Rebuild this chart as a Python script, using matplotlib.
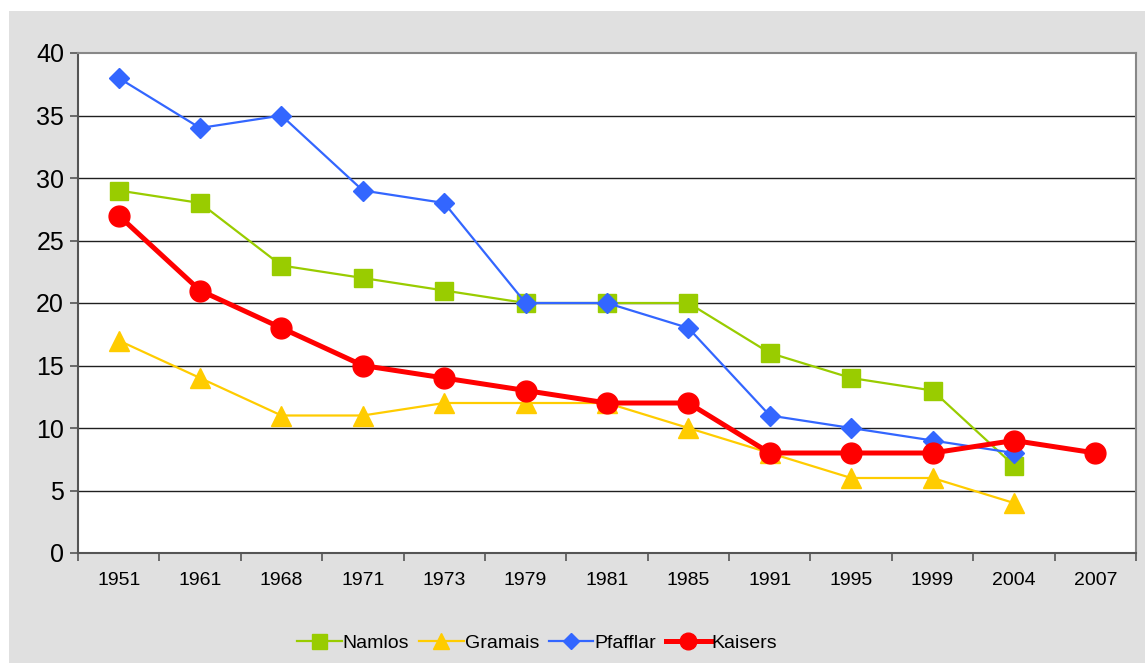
import matplotlib.pyplot as plt
import numpy as np
from matplotlib.patches import Rectangle

plt.rcParams['font.family'] = ['Liberation Sans', 'DejaVu Sans']

years = ['1951', '1961', '1968', '1971', '1973', '1979', '1981',
         '1985', '1991', '1995', '1999', '2004', '2007']
namlos = [29, 28, 23, 22, 21, 20, 20, 20, 16, 14, 13, 7, None]
gramais = [17, 14, 11, 11, 12, 12, 12, 10, 8, 6, 6, 4, None]
pfafflar = [38, 34, 35, 29, 28, 20, 20, 18, 11, 10, 9, 8, None]
kaisers = [27, 21, 18, 15, 14, 13, 12, 12, 8, 8, 8, 9, 8]

def arr(v):
    return np.array([np.nan if a is None else a for a in v], dtype=float)

W, H = 1145, 663
fig = plt.figure(figsize=(W / 100, H / 100), dpi=100, facecolor='white')
# gray chart area with a thin white margin top/left
fig.patches.append(Rectangle((9 / W, 0), 1 - 9 / W, (H - 11) / H,
                             transform=fig.transFigure, facecolor='#E0E0E0',
                             edgecolor='none', zorder=-10))

ax = fig.add_axes([78 / W, (H - 553) / H, (1136 - 78) / W, (553 - 53) / H])
ax.set_facecolor('white')

x = np.arange(len(years))
ax.plot(x, arr(namlos), color='#99CC00', lw=1.6, marker='s', ms=13.5, label='Namlos', zorder=3)
ax.plot(x, arr(gramais), color='#FFCC00', lw=1.6, marker='^', ms=14, label='Gramais', zorder=3)
ax.plot(x, arr(pfafflar), color='#3366FF', lw=1.6, marker='D', ms=10.5, label='Pfafflar', zorder=4)
ax.plot(x, arr(kaisers), color='#FF0000', lw=3.6, marker='o', ms=15, label='Kaisers', zorder=5)

ax.set_xlim(-0.5, 12.5)
ax.set_ylim(0, 40)
ax.set_yticks(range(0, 41, 5))
ax.set_xticks(x)
ax.set_xticklabels(years, fontsize=14)
ax.set_xticks(np.arange(-0.5, 13, 1), minor=True)
ax.tick_params(axis='x', which='major', length=0, pad=14)
ax.tick_params(axis='x', which='minor', length=6, width=1.2, color='#555555')
ax.tick_params(axis='y', labelsize=18, length=6, width=1.2, color='#555555', pad=4)

for y in range(5, 40, 5):
    ax.axhline(y, color='#202020', lw=1.0, zorder=1)

for s in ['left', 'bottom']:
    ax.spines[s].set_color('#555555')
    ax.spines[s].set_linewidth(1.5)
for s in ['top', 'right']:
    ax.spines[s].set_color('#888888')
    ax.spines[s].set_linewidth(1.5)

leg = fig.legend(loc='center', bbox_to_anchor=(537 / W, 1 - 643 / H), ncol=4,
                 frameon=False, fontsize=14, handlelength=2.3, handletextpad=0.05,
                 columnspacing=0.5, markerscale=0.8)

fig.savefig('out.png', dpi=100, facecolor='white')
